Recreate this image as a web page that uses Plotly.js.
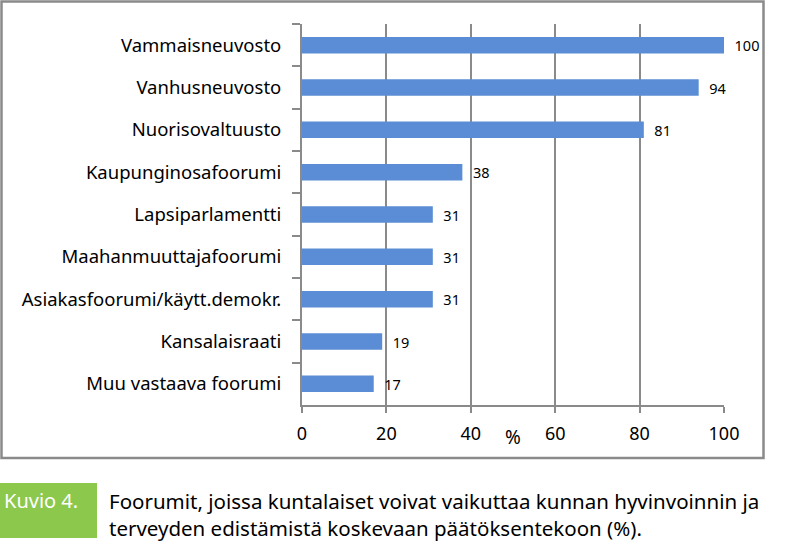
<!DOCTYPE html>
<html>
<head>
<meta charset="utf-8">
<script src="https://cdn.plot.ly/plotly-3.0.1.min.js"></script>
<style>html,body{margin:0;padding:0;background:#fff;}#chart{width:794px;height:556px;}</style>
</head>
<body>
<div id="chart"></div>
<script>
const categories = ["Vammaisneuvosto","Vanhusneuvosto","Nuorisovaltuusto","Kaupunginosafoorumi","Lapsiparlamentti","Maahanmuuttajafoorumi","Asiakasfoorumi/käytt.demokr.","Kansalaisraati","Muu vastaava foorumi"];
const values = [100, 94, 81, 38, 31, 31, 31, 19, 17];
const xTicks = [0, 20, 40, 60, 80, 100];
const axisTitle = "%";
const figLabel = "Kuvio 4.";
const caption = "Foorumit, joissa kuntalaiset voivat vaikuttaa kunnan hyvinvoinnin ja<br>terveyden edistämistä koskevaan päätöksentekoon (%).";

const W = 794, H = 556;
const L = 302, R = 724, T = 24, B = 405;
const px = x => (x - L) / (R - L);
const py = y => (B - y) / (B - T);
const FONT = "Noto Sans, Open Sans, sans-serif";

const trace = {
  type: 'bar', orientation: 'h',
  x: values, y: categories,
  marker: {color: '#5a8dd5', line: {width: 0}},
  width: 0.39,
  text: values.map(String),
  texttemplate: '\u00a0\u00a0%{text}',
  textposition: 'outside',
  constraintext: 'none',
  textfont: {family: FONT, size: 14.5, color: '#000'},
  cliponaxis: false,
  hoverinfo: 'skip'
};

const layout = {
  width: W, height: H,
  margin: {l: L, r: W - R, t: T, b: H - B},
  paper_bgcolor: '#fff', plot_bgcolor: '#fff',
  showlegend: false,
  font: {family: FONT, color: '#000'},
  xaxis: {
    range: [0, 100], tickvals: xTicks, ticktext: xTicks.map(String),
    showgrid: true, gridcolor: '#8a8a8a', gridwidth: 2,
    showline: true, linecolor: '#8a8a8a', linewidth: 2,
    ticks: 'outside', ticklen: 6, tickwidth: 2, tickcolor: '#8a8a8a',
    tickfont: {family: FONT, size: 18, color: '#000'},
    ticklabelstandoff: 5,
    zeroline: false, fixedrange: true
  },
  yaxis: {
    type: 'category', autorange: 'reversed',
    showline: true, linecolor: '#8a8a8a', linewidth: 2,
    ticks: 'outside', ticklen: 8, tickwidth: 2, tickcolor: '#8a8a8a',
    tickson: 'boundaries',
    tickfont: {family: FONT, size: 18.5, color: '#000'},
    ticklabelstandoff: 15,
    showgrid: false, zeroline: false, fixedrange: true
  },
  shapes: [
    {type: 'rect', xref: 'paper', yref: 'paper', x0: px(1.5), x1: px(763.5), y0: py(1.5), y1: py(458), line: {color: '#8a8a8a', width: 2.5}, fillcolor: 'rgba(0,0,0,0)', layer: 'below'},
    {type: 'rect', xref: 'paper', yref: 'paper', x0: px(0), x1: px(97), y0: py(483), y1: py(538), line: {width: 0}, fillcolor: '#8cc84b', layer: 'below'}
  ],
  annotations: [
    {xref: 'x', yref: 'paper', x: 50, y: py(437), text: axisTitle, showarrow: false, font: {family: FONT, size: 19, color: '#000'}, xanchor: 'center', yanchor: 'middle'},
    {xref: 'paper', yref: 'paper', x: px(2), y: py(500), text: figLabel, showarrow: false, font: {family: FONT, size: 20, color: '#fff'}, xanchor: 'left', yanchor: 'middle'},
    {xref: 'paper', yref: 'paper', x: px(107), y: py(485), text: caption, showarrow: false, font: {family: FONT, size: 20.5, color: '#000'}, xanchor: 'left', yanchor: 'top', align: 'left'}
  ]
};

Plotly.newPlot('chart', [trace], layout, {displayModeBar: false, staticPlot: true});
</script>
</body>
</html>
